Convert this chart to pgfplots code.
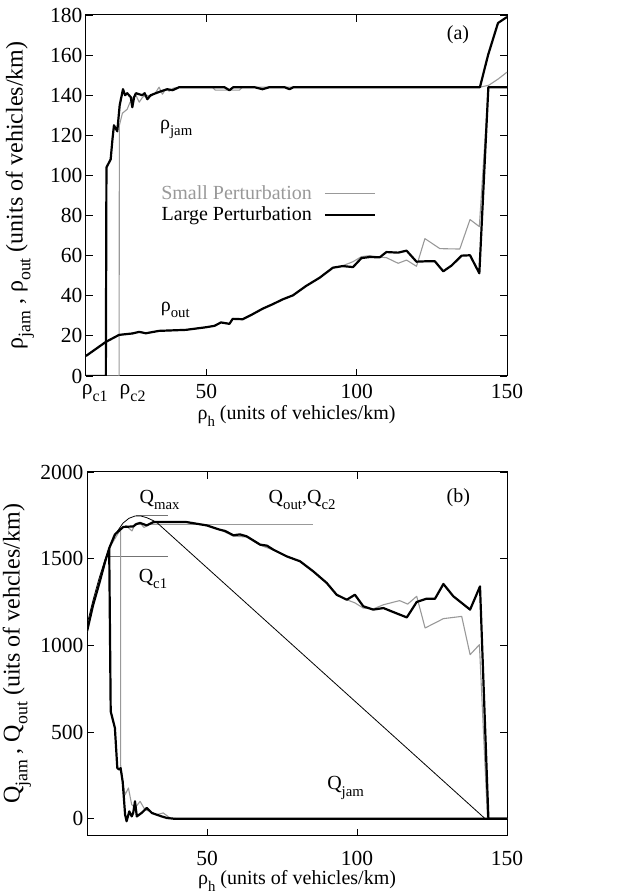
\documentclass[border=0pt]{standalone}
\usepackage{fontspec}
\setmainfont{Liberation Serif}
\usepackage{pgfplots}
\pgfplotsset{compat=1.18}
\newcommand{\sub}[1]{\raisebox{-0.32em}{\fontsize{0.74em}{0.74em}\selectfont #1}}
\newcommand{\fs}{\fontsize{20}{23}\selectfont}
\newcommand{\ft}{\fontsize{21.5}{24}\selectfont}
\newcommand{\fy}{\fontsize{24}{27}\selectfont}
\definecolor{lg}{gray}{0.6}
\definecolor{dg}{gray}{0.45}
\begin{document}
\begin{tikzpicture}
\path[use as bounding box] (0,0) rectangle (618pt,896pt);
\pgfplotsset{
 common/.style={
  scale only axis, xmin=10, xmax=150, xtick={50,100,150},
  tick align=inside, tick pos=both, major tick length=7pt,
  axis line style={line width=1pt}, every tick/.style={black, line width=0.8pt},
  /pgf/number format/assume math mode=true,
  /pgf/number format/1000 sep={},
  tick label style={font=\ft}, x label style={font=\fs}, y label style={font=\fy},
  anchor=south west,
 },
 large/.style={black, line width=2.2pt, line join=round},
 small/.style={lg, line width=1.1pt, line join=round},
}
% ---------------- panel (a)
\begin{axis}[common, at={(86pt,520pt)}, width=421pt, height=361pt,
  ymin=0, ymax=180, ytick={0,20,...,180},
  extra x ticks={12.9,25.5}, extra x tick labels={ρ\sub{c1}, ρ\sub{c2}},
  extra x tick style={major tick length=0pt},
  x tick label style={yshift=-5pt},
  xlabel={ρ\sub{h} (units of vehicles/km)},
  ylabel={ρ\sub{jam} , ρ\sub{out} (units of vehicles/km)},
  x label style={at={(axis description cs:0.5,0)}, anchor=center, yshift=-40pt},
  y label style={at={(axis description cs:-0.157,0.5)}, anchor=center},
  legend style={at={(axis cs:33.3,97)}, anchor=north west, draw=none, fill=none, font=\fs, row sep=2pt},
  legend cell align=right, legend plot pos=right,
  legend image code/.code={\path (0pt,0pt); \draw[#1] (10pt,0pt) -- (60pt,0pt);},
]
\addlegendimage{small}\addlegendentry{\textcolor{lg}{Small Perturbation}}
\addlegendimage{large}\addlegendentry{Large Perturbation}
% small rho_jam
\addplot[small] coordinates {(10,0) (21,0) (21.1,125) (22.1,131) (23.7,133) (24.5,136) (25.4,138.5) (26.6,140) (27.7,136.5) (28.8,139) (30,140) (31.6,139.5) (33,141) (34.3,144) (35.4,140.5) (36.5,143) (37.7,142) (39,143.5) (41,144) (52,144) (53,142.5) (61,142.5) (62,144) (141,144) (144,145) (147,148) (150,151.5)};
% small rho_out
\addplot[small] coordinates {(10,10) (16.6,17) (21,20.5) (25.4,21.2) (27.7,22) (29.9,21.3) (34.3,22.5) (43.2,23) (49.9,24.3) (52.7,25) (54.9,26.7) (57.7,26) (58.8,28.5) (62.1,28.3) (65.4,30.8) (68.8,33.6) (72.1,35.8) (75.4,38.2) (78.8,40.2) (83.2,44.9) (87.7,49) (92.1,54) (95.4,55) (98.8,57) (101.6,59.5) (104.3,60) (107.7,59.3) (109.9,59) (113.8,56.2) (116.6,57.8) (119.9,54.7) (122.7,68.5) (127.7,63.5) (134.3,63.3) (137.7,78) (140.8,74.5) (143.8,144) (150,144)};
% large rho_jam
\addplot[large] coordinates {(10,0) (16.6,0) (16.8,104) (17.5,106) (18.2,108) (18.8,118) (19.3,125) (20.4,122) (21.2,135) (22.3,143) (23,140) (23.7,141) (24.9,139) (25.4,134) (26,139) (26.6,141) (28.7,140) (29.5,141) (30.4,138) (31.5,140) (33.2,141) (35,142) (37,143) (38.8,142.5) (41,144) (56,144) (57.7,142.5) (59,144) (66,144) (68.7,143) (71,144) (76,144) (77.7,143) (79,144) (141,144) (143.7,160) (147,176) (150,179)};
% large rho_out
\addplot[large] coordinates {(10,10) (16.6,17) (21,20.5) (25.4,21.2) (27.7,22) (29.9,21.3) (34.3,22.5) (43.2,23) (49.9,24.3) (52.7,25) (54.9,26.7) (57.7,26) (58.8,28.5) (62.1,28.3) (65.4,30.8) (68.8,33.6) (72.1,35.8) (75.4,38.2) (78.8,40.2) (83.2,44.9) (87.7,49) (92.1,54) (95.4,54.8) (98.8,54.3) (101.6,58.8) (104.3,59.3) (107.7,59.2) (109.9,61.8) (113.8,61.5) (116.6,62.5) (119.9,57) (123.2,57.2) (126,57.2) (128.8,52.2) (131.6,55.1) (134.9,60) (137.7,60.2) (140.8,51.2) (143.8,144) (150,144)};
\node[font=\fs] at (axis cs:133.7,170) {(a)};
\node[font=\fs] at (axis cs:40,123) {ρ\sub{jam}};
\node[font=\fs] at (axis cs:39.7,33) {ρ\sub{out}};
\end{axis}
% ---------------- panel (b)
\begin{axis}[common, at={(87pt,60pt)}, width=420pt, height=364pt,
  ymin=-100, ymax=2000, ytick={0,500,...,2000},
  xlabel={ρ\sub{h} (units of vehicles/km)},
  ylabel={Q\sub{jam} , Q\sub{out} (uits of vehcles/km)},
  x tick label style={yshift=-12pt},
  x label style={at={(axis description cs:0.5,0)}, anchor=center, yshift=-45pt},
  y label style={at={(axis description cs:-0.167,0.5)}, anchor=center},
]
% reference lines
\addplot[dg, line width=1.2pt] coordinates {(26.3,1748) (37.1,1748)};
\addplot[lg, line width=0.9pt] coordinates {(26.6,1696) (85.4,1696)};
\addplot[dg, line width=0.9pt] coordinates {(17.4,1510) (37.1,1510)};
% small Q_out
\addplot[small] coordinates {(10,1080) (12,1230) (14.3,1370) (16,1480) (17.4,1560) (21.2,1670) (23,1690) (25,1660) (26,1700) (28,1700) (29,1680) (31,1700) (33,1710) (43,1711) (50,1690) (55,1662) (58.8,1630) (63.2,1625) (67.7,1578) (72.1,1550) (76.6,1513) (81,1485) (85.4,1427) (89.9,1360) (93.2,1292) (96.6,1263) (99.3,1245) (102.1,1215) (105.4,1210) (108.8,1234) (114.2,1258) (116.9,1238) (119.9,1283) (122.7,1100) (128.8,1154) (134.9,1167) (137.7,946) (140.8,1004) (143.5,0) (150,0)};
% small Q_jam
\addplot[small] coordinates {(21.2,1677) (21.2,312) (21.9,215) (22.7,138) (23.8,177) (24.9,81) (26,62) (27.7,100) (29.3,52) (31,42) (33.2,23) (35.4,33) (37.7,4) (40,0) (150,0)};
% large Q_out
\addplot[large] coordinates {(10,1080) (12,1230) (14.3,1370) (16,1480) (17.4,1560) (19.3,1640) (22.1,1683) (25.4,1686) (26.5,1700) (27.7,1706) (29.9,1692) (32.1,1711) (36.6,1711) (43.2,1711) (49.9,1692) (54.3,1667) (56,1660) (58.8,1635) (61,1640) (63.2,1629) (65,1610) (67.7,1581) (70,1575) (72.1,1552) (76.6,1513) (81,1485) (85.4,1427) (89.9,1360) (93.2,1292) (96.6,1263) (99.3,1292) (102.1,1225) (105.4,1206) (108.8,1215) (112.1,1192) (116.6,1161) (119.9,1250) (123.2,1269) (126,1269) (128.8,1354) (132.1,1283) (137.7,1206) (141,1340) (143.8,0) (150,0)};
% large Q_jam
\addplot[large] coordinates {(17.4,1560) (17.7,1000) (17.9,619) (19.3,523) (20.1,292) (20.8,283) (21.2,292) (21.9,212) (22.7,23) (23.2,-15) (24.1,42) (24.9,13) (25.4,33) (26,100) (26.6,13) (28.2,33) (29.9,62) (31.6,33) (33.2,23) (34.9,13) (36.6,4) (38.8,0) (150,0)};
% fundamental diagram (thin)
\addplot[black, line width=0.8pt] coordinates {(10,1120) (12,1260) (14,1385) (16,1495) (18,1585) (20,1655) (22,1705) (24,1733) (26,1746) (28,1746) (30,1736) (32,1720) (33.5,1705) (142.7,0)};
\node[font=\fs] at (axis cs:34.2,1840) {Q\sub{max}};
\node[font=\fs] at (axis cs:81.7,1840) {Q\sub{out},Q\sub{c2}};
\node[font=\fs] at (axis cs:133.8,1850) {(b)};
\node[font=\fs] at (axis cs:32,1383) {Q\sub{c1}};
\node[font=\fs] at (axis cs:96.2,177) {Q\sub{jam}};
\end{axis}
\end{tikzpicture}
\end{document}
